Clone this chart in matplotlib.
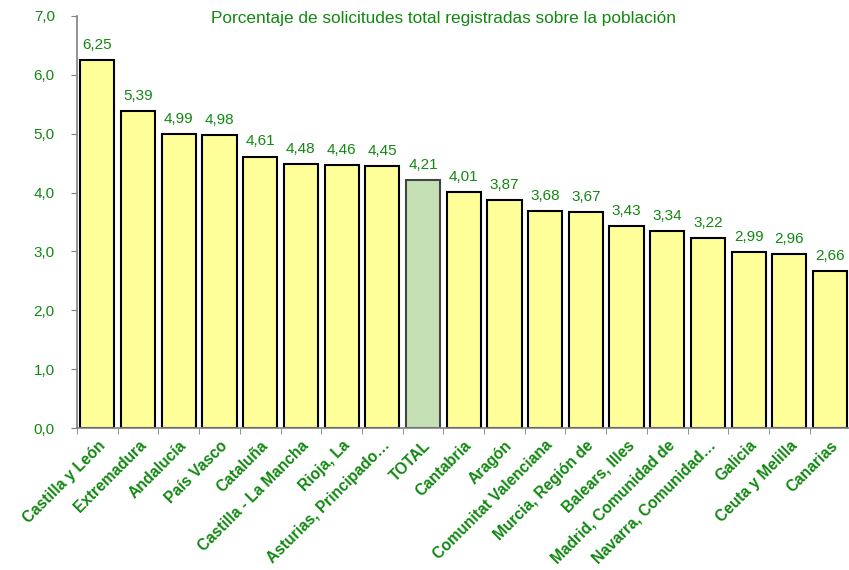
import numpy as np
import matplotlib.pyplot as plt

plt.rcParams['font.family'] = ['Liberation Sans', 'DejaVu Sans']

# datos
regiones = ["Castilla y León", "Extremadura", "Andalucía", "País Vasco", "Cataluña",
            "Castilla - La Mancha", "Rioja, La", "Asturias, Principado…", "TOTAL",
            "Cantabria", "Aragón", "Comunitat Valenciana", "Murcia, Región de",
            "Balears, Illes", "Madrid, Comunidad de", "Navarra, Comunidad…",
            "Galicia", "Ceuta y Melilla", "Canarias"]
porcentajes = [6.25, 5.39, 4.99, 4.98, 4.61, 4.48, 4.46, 4.45, 4.21, 4.01, 3.87,
               3.68, 3.67, 3.43, 3.34, 3.22, 2.99, 2.96, 2.66]

verde = "#118811"
colores = ["#C5E0B4" if r == "TOTAL" else "#FFFF99" for r in regiones]
bordes = ["#444444" if r == "TOTAL" else "black" for r in regiones]

fig = plt.figure(figsize=(8.49, 5.70), dpi=100)
ax = fig.add_axes([0.0907, 0.249, 0.911, 0.723])

x = np.arange(len(regiones))
ax.bar(x, porcentajes, width=0.84, color=colores, edgecolor=bordes, linewidth=1.5)

# etiquetas de valor
for i, v in enumerate(porcentajes):
    ax.text(i, v + 0.14, f"{v:.2f}".replace(".", ","), ha="center", va="bottom",
            color=verde, fontsize=11)

ax.set_xlim(-0.5, 18.5)
ax.set_ylim(0, 7)
ax.set_yticks(np.arange(0, 8, 1))
ax.set_yticklabels([f"{t:.1f}".replace(".", ",") for t in range(8)], color=verde, fontsize=11)

ax.set_xticks(x)
ax.set_xticklabels(regiones, rotation=45, ha="right", rotation_mode="anchor",
                   color=verde, fontsize=11.2, fontweight="bold")
ax.tick_params(axis="x", which="major", length=0, pad=7)
ax.set_xticks(np.arange(-0.5, 18.6, 1), minor=True)
ax.tick_params(axis="x", which="minor", length=4, color="#808080")
ax.tick_params(axis="y", length=4, color="#808080", pad=12)

for s in ["top", "right"]:
    ax.spines[s].set_visible(False)
ax.spines["left"].set_color("#808080")
ax.spines["bottom"].set_color("#808080")
ax.spines["left"].set_linewidth(1.2)
ax.spines["bottom"].set_linewidth(1.2)

fig.text(0.522, 0.968, "Porcentaje de solicitudes total registradas sobre la población",
         ha="center", va="center", color=verde, fontsize=12.4)

plt.savefig("out.png", dpi=100)
